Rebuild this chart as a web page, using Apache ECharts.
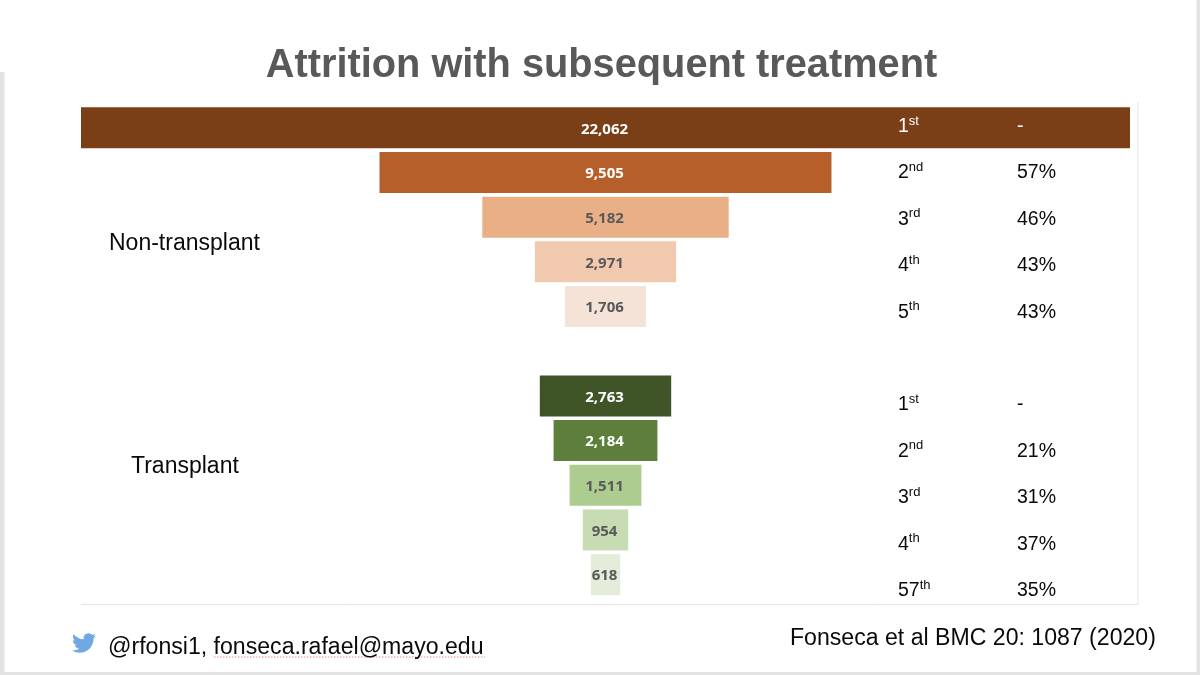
<!DOCTYPE html>
<html>
<head>
<meta charset="utf-8">
<style>html,body{margin:0;padding:0;background:#fff}#chart{width:1200px;height:675px}</style>
<script src="https://cdn.jsdelivr.net/npm/echarts@6/dist/echarts.min.js"></script>
</head>
<body>
<div id="chart"></div>
<script>
// Patients reaching each line of therapy; the empty row separates the two cohorts.
const nonTransplantCounts = [22062, 9505, 5182, 2971, 1706];
const transplantCounts = [2763, 2184, 1511, 954, 618];
const nonTransplantColors = ['#7b3f18', '#b65f2a', '#e9b088', '#f0c9ae', '#f6e3d7'];
const transplantColors = ['#3f5427', '#5e7f3b', '#adcc90', '#c8dcb3', '#e3edd9'];
const lightLabelRows = [0, 1, 6, 7];

const nonTransplantLines = ['1st', '2nd', '3rd', '4th', '5th'];
const transplantLines = ['1st', '2nd', '3rd', '4th', '57th'];
const nonTransplantAttrition = ['-', '57%', '46%', '43%', '43%'];
const transplantAttrition = ['-', '21%', '31%', '37%', '35%'];

const counts = [...nonTransplantCounts, null, ...transplantCounts];
const barColors = [...nonTransplantColors, 'transparent', ...transplantColors];
const lineLabels = [...nonTransplantLines, '', ...transplantLines];
const attritionLabels = [...nonTransplantAttrition, '', ...transplantAttrition];
const rows = counts.map((_, i) => 'row' + i);
const maxCount = Math.max(...nonTransplantCounts, ...transplantCounts);

const BODY_FONT = '"Liberation Sans", Arial, sans-serif';
const BAND_ROW = 0;
const INK = '#0a0a0a';

// Twitter bird beside the handle, as an inline vector image.
const BIRD_SVG = `<svg xmlns="http://www.w3.org/2000/svg" viewBox="0 0 24 24"><path fill="#6fa8e3" d="M23.953 4.57a10 10 0 01-2.825.775 4.958 4.958 0 002.163-2.723c-.951.555-2.005.959-3.127 1.184a4.92 4.92 0 00-8.384 4.482C7.69 8.095 4.067 6.13 1.64 3.162a4.822 4.822 0 00-.666 2.475c0 1.71.87 3.213 2.188 4.096a4.904 4.904 0 01-2.228-.616v.06a4.923 4.923 0 003.946 4.827 4.996 4.996 0 01-2.212.085 4.936 4.936 0 004.604 3.417 9.867 9.867 0 01-6.102 2.105c-.39 0-.779-.023-1.17-.067a13.995 13.995 0 007.557 2.209c9.053 0 13.998-7.496 13.998-13.985 0-.21 0-.42-.015-.63A9.935 9.935 0 0024 4.59z"/></svg>`;

// Ordinals with a raised suffix; the row on the dark band is set in white.
function ordinalLabel(value, index) {
  const m = value.match(/^(\d+)(\D+)$/);
  if (!m) return '';
  const tone = index === BAND_ROW ? 'W' : '';
  return `{num${tone}|${m[1]}}{sup${tone}|${m[2]}}`;
}
function percentLabel(value, index) {
  return value ? `{${index === BAND_ROW ? 'numW' : 'num'}|${value}}` : '';
}
const numStyle = { fontFamily: BODY_FONT, fontSize: 19.5, lineHeight: 24, verticalAlign: 'middle' };
const supStyle = { fontFamily: BODY_FONT, fontSize: 13, lineHeight: 24, verticalAlign: 'top' };
const ordinalRich = {
  num: { ...numStyle, color: INK }, sup: { ...supStyle, color: INK },
  numW: { ...numStyle, color: '#fff' }, supW: { ...supStyle, color: '#fff' }
};

const chart = echarts.init(document.getElementById('chart'), null, { renderer: 'canvas' });
const plainText = (x, y, text, size, extra) => ({
  type: 'text', x, y, z: 20,
  style: { text, fontFamily: BODY_FONT, fontSize: size, fill: INK, textVerticalAlign: 'middle', ...extra }
});

chart.setOption({
  animation: false,
  backgroundColor: '#ffffff',
  grid: [
    { left: 81, width: 1049, top: 105.4, height: 491.6 },
    { left: 898, width: 230, top: 103.3, height: 510.5 }
  ],
  xAxis: [
    { type: 'value', gridIndex: 0, min: 0, max: maxCount, show: false },
    { type: 'value', gridIndex: 1, min: 0, max: 1, show: false }
  ],
  yAxis: [
    { type: 'category', gridIndex: 0, data: rows, inverse: true, show: false },
    {
      type: 'category', gridIndex: 1, data: lineLabels, inverse: true, position: 'left', z: 10,
      axisLine: { show: false }, axisTick: { show: false },
      axisLabel: { inside: true, margin: 0, interval: 0, formatter: ordinalLabel, rich: ordinalRich }
    },
    {
      type: 'category', gridIndex: 1, data: attritionLabels, inverse: true, position: 'left', offset: -119, z: 10,
      axisLine: { show: false }, axisTick: { show: false },
      axisLabel: { inside: true, margin: 0, interval: 0, formatter: percentLabel, rich: ordinalRich }
    }
  ],
  series: [
    // Transparent spacer that centres each bar on the widest one.
    {
      type: 'bar', stack: 'funnel', xAxisIndex: 0, yAxisIndex: 0, barWidth: 41, silent: true,
      itemStyle: { color: 'transparent' },
      data: counts.map(v => (v == null ? null : (maxCount - v) / 2))
    },
    {
      type: 'bar', stack: 'funnel', xAxisIndex: 0, yAxisIndex: 0, barWidth: 41,
      data: counts.map((v, i) => ({
        value: v,
        itemStyle: { color: barColors[i] },
        label: { color: lightLabelRows.includes(i) ? '#ffffff' : '#595959' }
      })),
      label: {
        show: true, position: 'inside', offset: [-1, 1.5],
        fontFamily: '"Open Sans", sans-serif', fontWeight: 'bold', fontSize: 15,
        formatter: p => (p.value == null ? '' : p.value.toLocaleString('en-US'))
      }
    }
  ],
  graphic: [
    // Slide frame and panel rules.
    { type: 'rect', shape: { x: 0, y: 72, width: 4.5, height: 603 }, style: { fill: '#e3e3e3' } },
    { type: 'rect', shape: { x: 0, y: 672, width: 1200, height: 3 }, style: { fill: '#e3e3e3' } },
    { type: 'rect', shape: { x: 1196.5, y: 0, width: 3.5, height: 675 }, style: { fill: '#e3e3e3' } },
    { type: 'line', shape: { x1: 1138, y1: 102, x2: 1138, y2: 604.5 }, style: { stroke: '#e4e4e4', lineWidth: 1 } },
    { type: 'line', shape: { x1: 81, y1: 604.5, x2: 1138, y2: 604.5 }, style: { stroke: '#e4e4e4', lineWidth: 1 } },
    // Headline, cohort names and footer.
    plainText(601.5, 66.5, 'Attrition with subsequent treatment', 39.75,
      { fontWeight: 'bold', fill: '#595959', textAlign: 'center' }),
    plainText(109, 244, 'Non-transplant', 23),
    plainText(131, 467, 'Transplant', 23),
    plainText(108, 648, '@rfonsi1, fonseca.rafael@mayo.edu', 23.1),
    plainText(790, 638.5, 'Fonseca et al BMC 20: 1087 (2020)', 23.1),
    { type: 'line', shape: { x1: 214, y1: 657, x2: 485, y2: 657 },
      style: { stroke: '#e58a8a', lineWidth: 1.2, lineDash: [1.5, 1.5] } },
    {
      type: 'image', x: 72, y: 631,
      style: { image: 'data:image/svg+xml;charset=utf-8,' + encodeURIComponent(BIRD_SVG), width: 24, height: 24 }
    }
  ]
});
</script>
</body>
</html>
